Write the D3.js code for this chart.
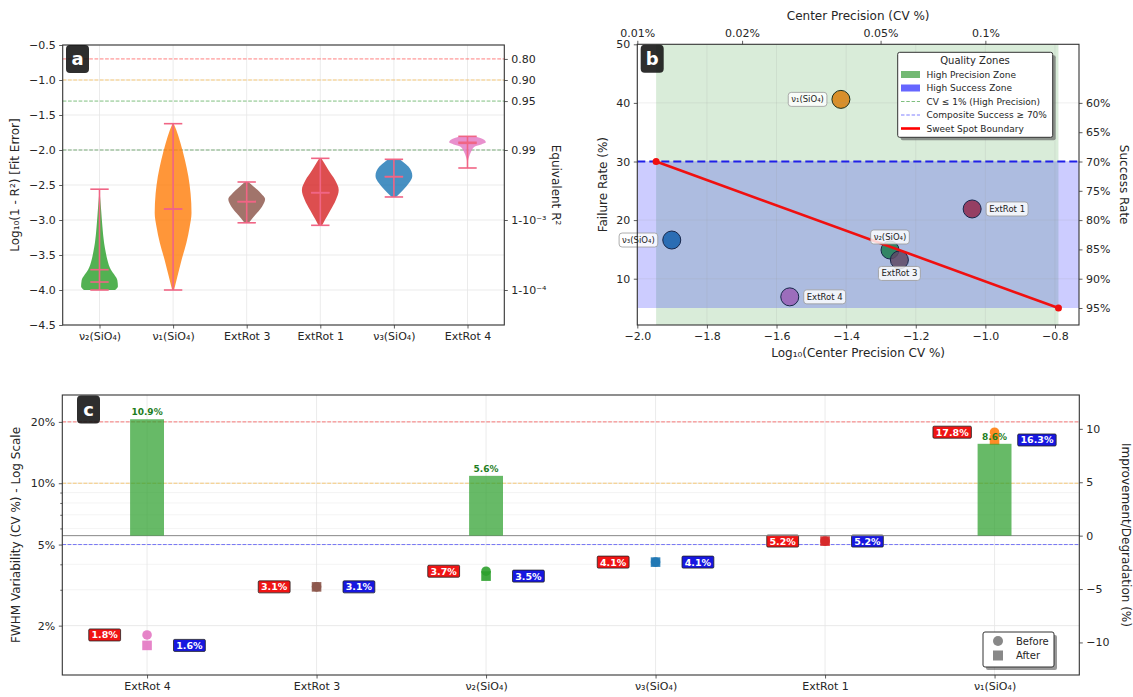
<!DOCTYPE html>
<html>
<head>
<meta charset="utf-8">
<script src="https://cdn.jsdelivr.net/npm/d3@7"></script>
<style>
  body { margin: 0; background: #fff; }
  svg { display: block; font-family: "DejaVu Sans", sans-serif; }
</style>
</head>
<body>
<svg id="chart" width="1133" height="697"></svg>
<script>
// ---------- data: panel a (fit error violins) ----------
const catsA = ["ν₂(SiO₄)", "ν₁(SiO₄)", "ExtRot 3", "ExtRot 1", "ν₃(SiO₄)", "ExtRot 4"];
const violinMin = [-4.0, -4.0, -3.04, -3.076, -2.671, -2.257];
const violinMax = [-2.56, -1.624, -2.457, -2.119, -2.133, -1.805];
const violinMean = [-3.71, -2.843, -2.738, -2.61, -2.381, -1.905];
const violinMedian = [-3.886, -2.843, -2.738, -2.61, -2.381, -1.89];
// [log10(1-R²), relative half width]
const violinProfiles = [
  [[-4.0,0.85],[-3.95,1.0],[-3.86,0.97],[-3.78,0.8],[-3.71,0.62],[-3.57,0.43],[-3.45,0.33],[-3.33,0.25],[-3.1,0.16],[-2.86,0.09],[-2.7,0.04],[-2.56,0.0]],
  [[-4.0,0.05],[-3.81,0.23],[-3.57,0.46],[-3.33,0.72],[-3.1,0.9],[-2.9,1.0],[-2.62,0.95],[-2.38,0.83],[-2.14,0.64],[-1.9,0.4],[-1.71,0.17],[-1.624,0.03]],
  [[-3.04,0.12],[-2.93,0.46],[-2.81,0.83],[-2.70,1.0],[-2.62,0.78],[-2.52,0.37],[-2.457,0.1]],
  [[-3.076,0.1],[-3.0,0.25],[-2.86,0.55],[-2.71,0.85],[-2.57,1.0],[-2.43,0.8],[-2.29,0.45],[-2.19,0.22],[-2.119,0.05]],
  [[-2.671,0.12],[-2.57,0.5],[-2.48,0.8],[-2.37,1.0],[-2.24,0.8],[-2.17,0.5],[-2.133,0.3]],
  [[-2.257,0.0],[-2.15,0.03],[-2.1,0.08],[-2.02,0.2],[-1.95,0.4],[-1.92,0.75],[-1.89,1.0],[-1.83,0.7],[-1.805,0.4]]
];
const r2Lines = [0.80, 0.90, 0.95, 0.99];
const r2Ticks = [0.80, 0.90, 0.95, 0.99, 0.999, 0.9999];
const r2TickLabels = ["0.80", "0.90", "0.95", "0.99", "1-10⁻³", "1-10⁻⁴"];

// ---------- data: panel b (precision vs failure) ----------
const catsB = ["ν₁(SiO₄)", "ν₃(SiO₄)", "ExtRot 1", "ν₂(SiO₄)", "ExtRot 3", "ExtRot 4"];
const logCV = [-1.415, -1.901, -1.038, -1.274, -1.247, -1.562];
const failureRate = [40.6, 16.6, 21.9, 14.9, 13.2, 6.9];
const precisionZone = [-1.946, -0.79];
const successZone = [5, 30];
const sweetX = [-1.946, -0.79];
const sweetY = [30, 5];
const cvTicks = [0.01, 0.02, 0.05, 0.1];
const successTicks = [60, 65, 70, 75, 80, 85, 90, 95];

// ---------- data: panel c (FWHM variability) ----------
const catsC = ["ExtRot 4", "ExtRot 3", "ν₂(SiO₄)", "ν₃(SiO₄)", "ExtRot 1", "ν₁(SiO₄)"];
const cvBefore = [1.8, 3.1, 3.7, 4.1, 5.2, 17.8];
const cvAfter = [1.6, 3.1, 3.5, 4.1, 5.2, 16.3];
const improvement = [10.9, 0, 5.6, 0, 0, 8.6];
const cvMajor = [2, 5, 10, 20];
const cvMinor = [3, 4, 6, 7, 8, 9];

// colours per mode
const modeColor = {
  "ν₂(SiO₄)": "#2ca02c", "ν₁(SiO₄)": "#ff7f0e", "ExtRot 3": "#8c564b",
  "ExtRot 1": "#d62728", "ν₃(SiO₄)": "#1f77b4", "ExtRot 4": "#e377c2"
};
const labelSide = ["left", "left", "right", "above", "below", "right"];

const svg = d3.select("#chart");
svg.append("rect").attr("width", 1133).attr("height", 697).attr("fill", "#fff");

const FONT = "DejaVu Sans";
const TXT = "#262626";

function styleAxis(g) {
  g.select(".domain").remove();
  g.attr("font-family", FONT).attr("font-size", 11);
  g.selectAll(".tick line").attr("stroke", "#333").attr("stroke-width", 0.8);
  g.selectAll(".tick text").attr("fill", TXT);
  return g;
}
function frame(p) {
  svg.append("rect").attr("x", p.l).attr("y", p.t)
    .attr("width", p.r - p.l).attr("height", p.b - p.t)
    .attr("fill", "none").attr("stroke", "#333").attr("stroke-width", 1.1);
}
function vLabel(x, y, txt, rot) {
  svg.append("text").attr("transform", `translate(${x},${y}) rotate(${rot})`)
    .attr("text-anchor", "middle").attr("dominant-baseline", "central")
    .attr("font-size", 12).attr("fill", TXT).text(txt);
}
function panelTag(x, y, letter) {
  svg.append("rect").attr("x", x).attr("y", y).attr("width", 23).attr("height", 28)
    .attr("rx", 4).attr("fill", "#111").attr("opacity", 0.88);
  svg.append("text").attr("x", x + 11.5).attr("y", y + 20).attr("text-anchor", "middle")
    .attr("font-size", 18).attr("font-weight", "bold").attr("fill", "#fff").text(letter);
}
function shadowBox(x, y, w, h) {
  svg.append("rect").attr("x", x + 3).attr("y", y + 3).attr("width", w).attr("height", h)
    .attr("rx", 2).attr("fill", "#555").attr("opacity", 0.6);
  svg.append("rect").attr("x", x).attr("y", y).attr("width", w).attr("height", h)
    .attr("rx", 2).attr("fill", "#fff").attr("stroke", "#333").attr("stroke-width", 1);
}

// ================= Panel a =================
const A = { l: 62.7, r: 504.3, t: 45, b: 325 };
const xA = d3.scalePoint().domain(catsA).range([A.l, A.r]).padding(0.5);
const yA = d3.scaleLinear().domain([-4.5, -0.5]).range([A.b, A.t]);
const stepA = xA.step();
const gA = svg.append("g");

yA.ticks(8).forEach(v => gA.append("line").attr("x1", A.l).attr("x2", A.r)
  .attr("y1", yA(v)).attr("y2", yA(v)).attr("stroke", "#e6e6e6").attr("stroke-width", 0.8));
catsA.forEach(c => gA.append("line").attr("x1", xA(c)).attr("x2", xA(c))
  .attr("y1", A.t).attr("y2", A.b).attr("stroke", "#e6e6e6").attr("stroke-width", 0.8));

const refCols = ["red", "orange", "green", "darkgreen"];
r2Lines.forEach((r, i) => gA.append("line").attr("x1", A.l).attr("x2", A.r)
  .attr("y1", yA(Math.log10(1 - r))).attr("y2", yA(Math.log10(1 - r)))
  .attr("stroke", refCols[i]).attr("stroke-opacity", 0.5).attr("stroke-width", 1)
  .attr("stroke-dasharray", "3.7,1.6"));

const LC = "#f06585";
catsA.forEach((c, i) => {
  const cx = xA(c), hw = 0.25 * stepA;
  const area = d3.area().curve(d3.curveMonotoneY)
    .y(d => yA(d[0])).x0(d => cx - hw * d[1]).x1(d => cx + hw * d[1]);
  gA.append("path").attr("d", area(violinProfiles[i]))
    .attr("fill", modeColor[c]).attr("fill-opacity", 0.82).attr("stroke", "none");
  gA.append("line").attr("x1", cx).attr("x2", cx)
    .attr("y1", yA(violinMin[i])).attr("y2", yA(violinMax[i])).attr("stroke", LC).attr("stroke-width", 1.6);
  [violinMin[i], violinMax[i], violinMean[i], violinMedian[i]].forEach(v =>
    gA.append("line").attr("x1", cx - 0.125 * stepA).attr("x2", cx + 0.125 * stepA)
      .attr("y1", yA(v)).attr("y2", yA(v)).attr("stroke", LC).attr("stroke-width", 1.6));
});

styleAxis(svg.append("g").attr("transform", `translate(0,${A.b})`)
  .call(d3.axisBottom(xA).tickSize(3.5).tickPadding(3.5)));
styleAxis(svg.append("g").attr("transform", `translate(${A.l},0)`)
  .call(d3.axisLeft(yA).ticks(8).tickFormat(d3.format(".1f")).tickSize(3.5).tickPadding(3.5)));
styleAxis(svg.append("g").attr("transform", `translate(${A.r},0)`)
  .call(d3.axisRight(yA).tickValues(r2Ticks.map(r => Math.log10(1 - r)))
    .tickFormat((d, i) => r2TickLabels[i]).tickSize(3.5).tickPadding(3.5)));
frame(A);
vLabel(15, (A.t + A.b) / 2, "Log₁₀(1 - R²) [Fit Error]", -90);
vLabel(556, (A.t + A.b) / 2, "Equivalent R²", 90);
panelTag(66, 45, "a");

// ================= Panel b =================
const B = { l: 637.3, r: 1079, t: 44.3, b: 325 };
const xB = d3.scaleLinear().domain([-2.0, -0.731]).range([B.l, B.r]);
const yB = d3.scaleLinear().domain([2.1, 50]).range([B.b, B.t]);
const gB = svg.append("g");

// points (zones are laid over them)
const pts = gB.append("g");
catsB.forEach((c, i) => pts.append("circle").attr("cx", xB(logCV[i])).attr("cy", yB(failureRate[i]))
  .attr("r", 9).attr("fill", modeColor[c]).attr("fill-opacity", 0.85)
  .attr("stroke", "#222").attr("stroke-width", 1));

gB.append("rect").attr("x", xB(precisionZone[0])).attr("y", B.t)
  .attr("width", xB(precisionZone[1]) - xB(precisionZone[0])).attr("height", B.b - B.t)
  .attr("fill", "green").attr("fill-opacity", 0.15);
gB.append("rect").attr("x", B.l).attr("y", yB(successZone[1]))
  .attr("width", B.r - B.l).attr("height", yB(successZone[0]) - yB(successZone[1]))
  .attr("fill", "blue").attr("fill-opacity", 0.2);

xB.ticks(7).forEach(v => gB.append("line").attr("x1", xB(v)).attr("x2", xB(v))
  .attr("y1", B.t).attr("y2", B.b).attr("stroke", "#999").attr("stroke-opacity", 0.2).attr("stroke-width", 0.8));
[10, 20, 30, 40].forEach(v => gB.append("line").attr("x1", B.l).attr("x2", B.r)
  .attr("y1", yB(v)).attr("y2", yB(v)).attr("stroke", "#999").attr("stroke-opacity", 0.2).attr("stroke-width", 0.8));

gB.append("line").attr("x1", B.l).attr("x2", B.r).attr("y1", yB(successZone[1])).attr("y2", yB(successZone[1]))
  .attr("stroke", "#1f1fe8").attr("stroke-width", 2.2).attr("stroke-dasharray", "8,4");

const sweet = sweetX.map((x, i) => [x, sweetY[i]]);
gB.append("path").attr("d", d3.line().x(d => xB(d[0])).y(d => yB(d[1]))(sweet))
  .attr("stroke", "#f01010").attr("stroke-width", 2.6).attr("fill", "none");
sweet.forEach(d => gB.append("circle").attr("cx", xB(d[0])).attr("cy", yB(d[1])).attr("r", 3.5).attr("fill", "#f01010"));

// point labels
catsB.forEach((c, i) => {
  const cx = xB(logCV[i]), cy = yB(failureRate[i]);
  const g = gB.append("g");
  const t = g.append("text").attr("font-size", 8.5).attr("fill", "#222").text(c);
  const bb = t.node().getBBox();
  const w = bb.width + 6, h = 14;
  let bx, by;
  if (labelSide[i] === "left") { bx = cx - 14 - w; by = cy - h / 2; }
  else if (labelSide[i] === "right") { bx = cx + 14; by = cy - h / 2; }
  else if (labelSide[i] === "above") { bx = cx - w / 2; by = cy - 6 - h; }
  else { bx = cx - w / 2; by = cy + 6.5; }
  g.insert("rect", "text").attr("x", bx).attr("y", by).attr("width", w).attr("height", h)
    .attr("rx", 3).attr("fill", "#fff").attr("fill-opacity", 0.82).attr("stroke", "#999").attr("stroke-width", 0.8);
  t.attr("x", bx + 3).attr("y", by + h / 2).attr("dominant-baseline", "central");
});

styleAxis(svg.append("g").attr("transform", `translate(0,${B.b})`)
  .call(d3.axisBottom(xB).ticks(7).tickFormat(d3.format(".1f")).tickSize(3.5).tickPadding(3.5)));
styleAxis(svg.append("g").attr("transform", `translate(${B.l},0)`)
  .call(d3.axisLeft(yB).tickValues([10, 20, 30, 40, 50]).tickSize(3.5).tickPadding(3.5)));
styleAxis(svg.append("g").attr("transform", `translate(${B.r},0)`)
  .call(d3.axisRight(yB).tickValues(successTicks.map(s => 100 - s))
    .tickFormat(d => (100 - d) + "%").tickSize(3.5).tickPadding(3.5)));
styleAxis(svg.append("g").attr("transform", `translate(0,${B.t})`)
  .call(d3.axisTop(xB).tickValues(cvTicks.map(Math.log10))
    .tickFormat((d, i) => cvTicks[i] + "%").tickSize(3.5).tickPadding(3.5)));
frame(B);
vLabel(603, (B.t + B.b) / 2, "Failure Rate (%)", -90);
vLabel(1124, (B.t + B.b) / 2, "Success Rate", 90);
svg.append("text").attr("x", (B.l + B.r) / 2).attr("y", 353).attr("text-anchor", "middle")
  .attr("dominant-baseline", "central").attr("font-size", 12).attr("fill", TXT).text("Log₁₀(Center Precision CV %)");
svg.append("text").attr("x", (B.l + B.r) / 2).attr("y", 16).attr("text-anchor", "middle")
  .attr("dominant-baseline", "central").attr("font-size", 12).attr("fill", TXT).text("Center Precision (CV %)");
panelTag(640.7, 44.8, "b");

// legend b
shadowBox(897.7, 52.3, 155, 85);
svg.append("text").attr("x", 975).attr("y", 64).attr("text-anchor", "middle").attr("font-size", 10)
  .attr("fill", TXT).text("Quality Zones");
const legB = [
  { t: "High Precision Zone", k: "patch", c: "green", o: 0.55 },
  { t: "High Success Zone", k: "patch", c: "blue", o: 0.6 },
  { t: "CV ≤ 1% (High Precision)", k: "dash", c: "green", o: 0.5 },
  { t: "Composite Success ≥ 70%", k: "dash", c: "blue", o: 0.5 },
  { t: "Sweet Spot Boundary", k: "line", c: "red", o: 1 }
];
legB.forEach((d, i) => {
  const y = 74.5 + i * 13.5;
  if (d.k === "patch") svg.append("rect").attr("x", 901).attr("y", y - 3.5).attr("width", 19).attr("height", 7)
    .attr("fill", d.c).attr("fill-opacity", d.o);
  else svg.append("line").attr("x1", 901).attr("x2", 920).attr("y1", y).attr("y2", y)
    .attr("stroke", d.c).attr("stroke-opacity", d.o)
    .attr("stroke-width", d.k === "line" ? 2.6 : 1).attr("stroke-dasharray", d.k === "dash" ? "3.5,1.8" : null);
  svg.append("text").attr("x", 926.5).attr("y", y).attr("dominant-baseline", "central")
    .attr("font-size", 9).attr("fill", TXT).text(d.t);
});

// ================= Panel c =================
const C = { l: 62.3, r: 1079.3, t: 395, b: 675 };
const xC = d3.scalePoint().domain(catsC).range([C.l, C.r]).padding(0.5);
const yC = d3.scaleLog().domain([1.145, 27.1]).range([C.b, C.t]);
const yR = d3.scaleLinear().domain([-13.05, 13.17]).range([C.b, C.t]);
const stepC = xC.step();
const gC = svg.append("g");

cvMinor.forEach(v => gC.append("line").attr("x1", C.l).attr("x2", C.r).attr("y1", yC(v)).attr("y2", yC(v))
  .attr("stroke", "#ececec").attr("stroke-width", 0.6));
cvMajor.forEach(v => gC.append("line").attr("x1", C.l).attr("x2", C.r).attr("y1", yC(v)).attr("y2", yC(v))
  .attr("stroke", "#e3e3e3").attr("stroke-width", 0.8));
catsC.forEach(c => gC.append("line").attr("x1", xC(c)).attr("x2", xC(c)).attr("y1", C.t).attr("y2", C.b)
  .attr("stroke", "#e6e6e6").attr("stroke-width", 0.8));

[[20, "red"], [10, "orange"], [5, "blue"]].forEach(([v, col]) => gC.append("line")
  .attr("x1", C.l).attr("x2", C.r).attr("y1", yC(v)).attr("y2", yC(v))
  .attr("stroke", col).attr("stroke-opacity", 0.5).attr("stroke-width", 1).attr("stroke-dasharray", "3.7,1.6"));

// before / after markers
catsC.forEach((c, i) => {
  const cx = xC(c);
  gC.append("circle").attr("cx", cx).attr("cy", yC(cvBefore[i])).attr("r", 4.8)
    .attr("fill", modeColor[c]).attr("fill-opacity", 0.9);
  gC.append("rect").attr("x", cx - 4.8).attr("y", yC(cvAfter[i]) - 4.8).attr("width", 9.6).attr("height", 9.6)
    .attr("fill", modeColor[c]).attr("fill-opacity", 0.9);
});

// value boxes
function valueBox(x, y, txt, fill) {
  const g = gC.append("g");
  const t = g.append("text").attr("font-size", 9.5).attr("font-weight", "bold").attr("fill", "#fff").text(txt);
  const bb = t.node().getBBox();
  const w = bb.width + 5, h = 12;
  g.insert("rect", "text").attr("x", x - w / 2).attr("y", y - h / 2).attr("width", w).attr("height", h)
    .attr("rx", 1.2).attr("fill", fill).attr("stroke", "#222").attr("stroke-width", 0.8);
  t.attr("x", x).attr("y", y).attr("text-anchor", "middle").attr("dominant-baseline", "central");
}
catsC.forEach((c, i) => {
  valueBox(xC(c) - 0.25 * stepC, yC(cvBefore[i]), cvBefore[i].toFixed(1) + "%", "#f01414");
  valueBox(xC(c) + 0.25 * stepC, yC(cvAfter[i]), cvAfter[i].toFixed(1) + "%", "#1717e0");
});

// zero line on the right axis and improvement bars
gC.append("line").attr("x1", C.l).attr("x2", C.r).attr("y1", yR(0)).attr("y2", yR(0))
  .attr("stroke", "#888").attr("stroke-width", 1);
catsC.forEach((c, i) => {
  if (improvement[i] <= 0) return;
  const cx = xC(c), bw = 0.2 * stepC;
  gC.append("rect").attr("x", cx - bw / 2).attr("y", yR(improvement[i]))
    .attr("width", bw).attr("height", yR(0) - yR(improvement[i]))
    .attr("fill", "#2ca02c").attr("fill-opacity", 0.72);
  gC.append("text").attr("x", cx).attr("y", yR(improvement[i]) - 4).attr("text-anchor", "middle")
    .attr("font-size", 9).attr("font-weight", "bold").attr("fill", "#1e7d1e").text(improvement[i].toFixed(1) + "%");
});

styleAxis(svg.append("g").attr("transform", `translate(0,${C.b})`)
  .call(d3.axisBottom(xC).tickSize(3.5).tickPadding(3.5)));
styleAxis(svg.append("g").attr("transform", `translate(${C.l},0)`)
  .call(d3.axisLeft(yC).tickValues(cvMajor).tickFormat(d => d + "%").tickSize(3.5).tickPadding(3.5)));
styleAxis(svg.append("g").attr("transform", `translate(${C.l},0)`)
  .call(d3.axisLeft(yC).tickValues(cvMinor).tickFormat("").tickSize(2)));
styleAxis(svg.append("g").attr("transform", `translate(${C.r},0)`)
  .call(d3.axisRight(yR).tickValues([-10, -5, 0, 5, 10]).tickFormat(d3.format("d")).tickSize(3.5).tickPadding(3.5)));
frame(C);
vLabel(16, (C.t + C.b) / 2, "FWHM Variability (CV %) - Log Scale", -90);
vLabel(1126, (C.t + C.b) / 2, "Improvement/Degradation (%)", 90);
panelTag(77, 395.5, "c");

// legend c
shadowBox(983, 632, 71, 35);
svg.append("circle").attr("cx", 998).attr("cy", 641).attr("r", 5).attr("fill", "#888");
svg.append("rect").attr("x", 993).attr("y", 650.5).attr("width", 10).attr("height", 10).attr("fill", "#888");
svg.append("text").attr("x", 1016).attr("y", 641).attr("dominant-baseline", "central").attr("font-size", 10).attr("fill", TXT).text("Before");
svg.append("text").attr("x", 1016).attr("y", 655.5).attr("dominant-baseline", "central").attr("font-size", 10).attr("fill", TXT).text("After");
</script>
</body>
</html>
